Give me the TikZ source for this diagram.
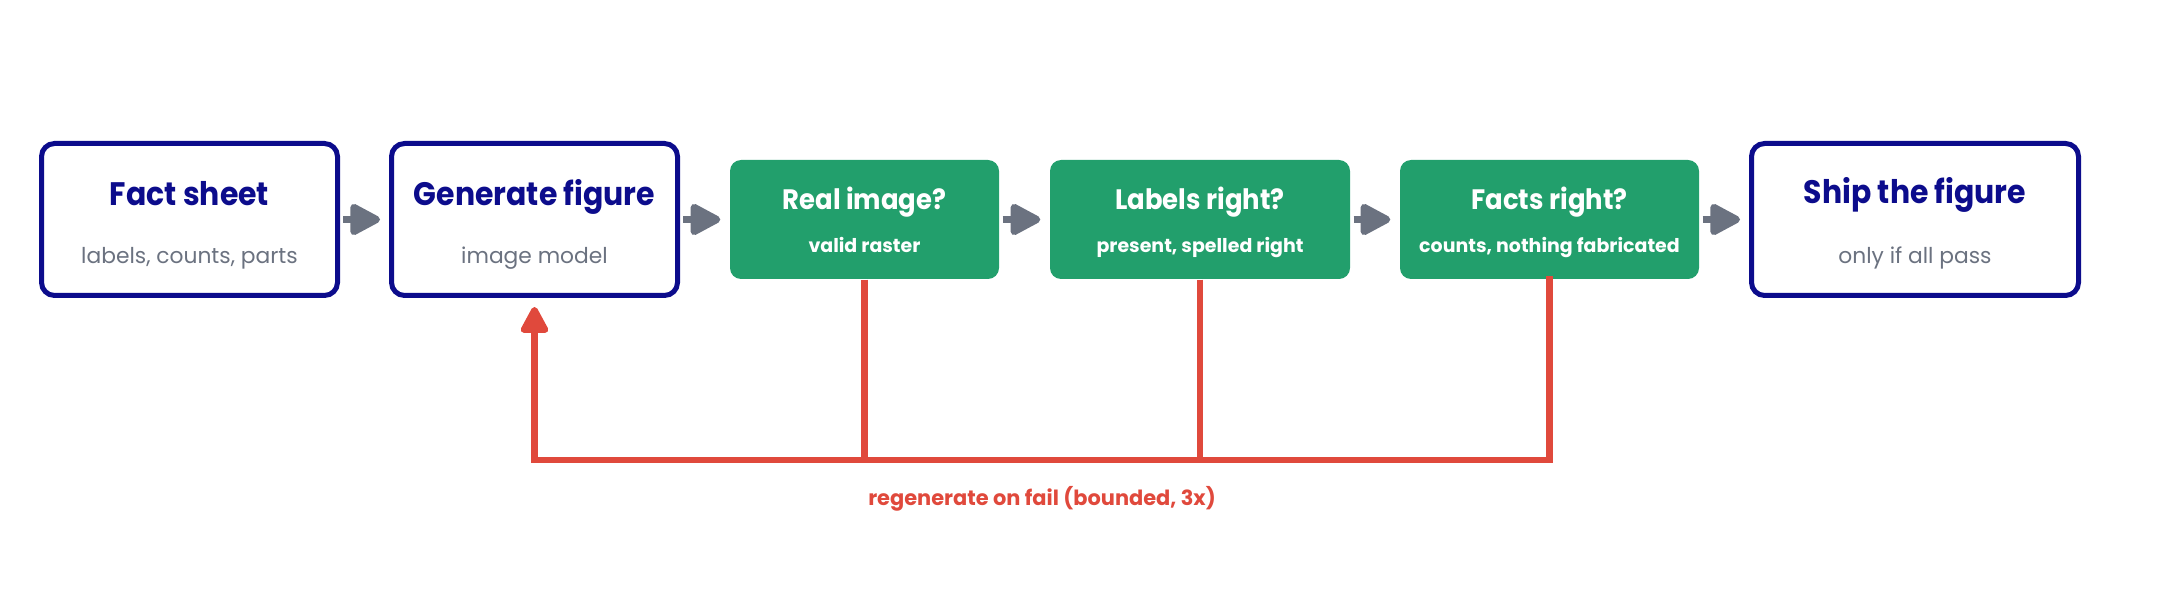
\documentclass[tikz,border=0pt]{standalone}
\usepackage{fontspec}
\setmainfont{Poppins}
\newfontfamily\narrowfont[FakeStretch=0.92]{Poppins}
\usetikzlibrary{arrows.meta}
\definecolor{navy}{HTML}{0C0C8C}
\definecolor{okgreen}{HTML}{229F6C}
\definecolor{arrowgray}{HTML}{6B7280}
\definecolor{failred}{HTML}{E0493C}
\begin{document}
\begin{tikzpicture}[x=0.1mm,y=-0.1mm,
  navybox/.style={draw=navy, line width=0.5mm, rounded corners=1.3mm, fill=white, minimum height=15.2mm, inner sep=0pt},
  greenbox/.style={fill=okgreen, rounded corners=1.1mm, minimum height=11.9mm, inner sep=0pt},
  navytitle/.style={anchor=base, text=navy, font=\narrowfont\fontsize{9.25pt}{11pt}\selectfont\bfseries, inner sep=0pt},
  navysub/.style={anchor=base, text=arrowgray, font=\fontsize{6.2pt}{8pt}\selectfont, inner sep=0pt},
  greentitle/.style={anchor=base, text=white, font=\narrowfont\fontsize{8.0pt}{10pt}\selectfont\bfseries, inner sep=0pt},
  greensub/.style={anchor=base, text=white, font=\fontsize{5.4pt}{7pt}\selectfont\bfseries, inner sep=0pt},
  flow/.style={draw=arrowgray, line width=0.7mm, -{Triangle[length=3.4mm, width=3.4mm, round]}, shorten <=0.3mm, shorten >=0.9mm},
  fail/.style={draw=failred, line width=0.65mm},
]
\useasboundingbox (0,0) rectangle (2160,600);

\node[navybox, minimum width=29.6mm] (b1) at (189.5,219.5) {};
\node[navybox, minimum width=28.6mm] (b2) at (534.5,219.5) {};
\node[greenbox, minimum width=26.9mm] (b3) at (864.5,219.5) {};
\node[greenbox, minimum width=30.0mm] (b4) at (1200,219.5) {};
\node[greenbox, minimum width=29.9mm] (b5) at (1549.5,219.5) {};
\node[navybox, minimum width=32.7mm] (b6) at (1915,219.5) {};

\node[navytitle] (t1) at ([yshift=1.45mm]b1.center) {Fact sheet};
\node[navysub] (s1) at ([yshift=-4.35mm]b1.center) {labels, counts, parts};
\node[navytitle] (t2) at ([yshift=1.45mm]b2.center) {Generate figure};
\node[navysub] (s2) at ([yshift=-4.35mm]b2.center) {image model};
\node[greentitle] (t3) at ([yshift=0.95mm]b3.center) {Real image?};
\node[greensub] (s3) at ([yshift=-3.35mm]b3.center) {valid raster};
\node[greentitle] (t4) at ([yshift=0.95mm]b4.center) {Labels right?};
\node[greensub] (s4) at ([yshift=-3.35mm]b4.center) {present, spelled right};
\node[greentitle] (t5) at ([yshift=0.95mm]b5.center) {Facts right?};
\node[greensub] (s5) at ([yshift=-3.35mm]b5.center) {counts, nothing fabricated};
\node[navytitle] (t6) at ([yshift=1.65mm]b6.center) {Ship the figure};
\node[navysub] (s6) at ([yshift=-4.45mm]b6.center) {only if all pass};

\draw[flow] (b1.east) -- (b2.west);
\draw[flow] (b2.east) -- (b3.west);
\draw[flow] (b3.east) -- (b4.west);
\draw[flow] (b4.east) -- (b5.west);
\draw[flow] (b5.east) -- (b6.west);

\coordinate (j2) at (b2.south |- 0,460);
\coordinate (j3) at (b3.south |- 0,460);
\coordinate (j4) at (b4.south |- 0,460);
\coordinate (j5) at (b5.south |- 0,460);
\draw[fail] (b3.south) -- (j3);
\draw[fail] (b4.south) -- (j4);
\draw[fail, line cap=rect] (b5.south) -- (j5) -- (j2);
\draw[fail, -{Triangle[length=3.0mm, width=3.0mm, round]}, shorten >=0.9mm] (j2) -- (b2.south);

\node[anchor=base, text=failred, font=\fontsize{5.95pt}{7pt}\selectfont\bfseries, inner sep=0pt] (fl) at (1042,505) {regenerate on fail (bounded, 3x)};
\end{tikzpicture}
\end{document}
